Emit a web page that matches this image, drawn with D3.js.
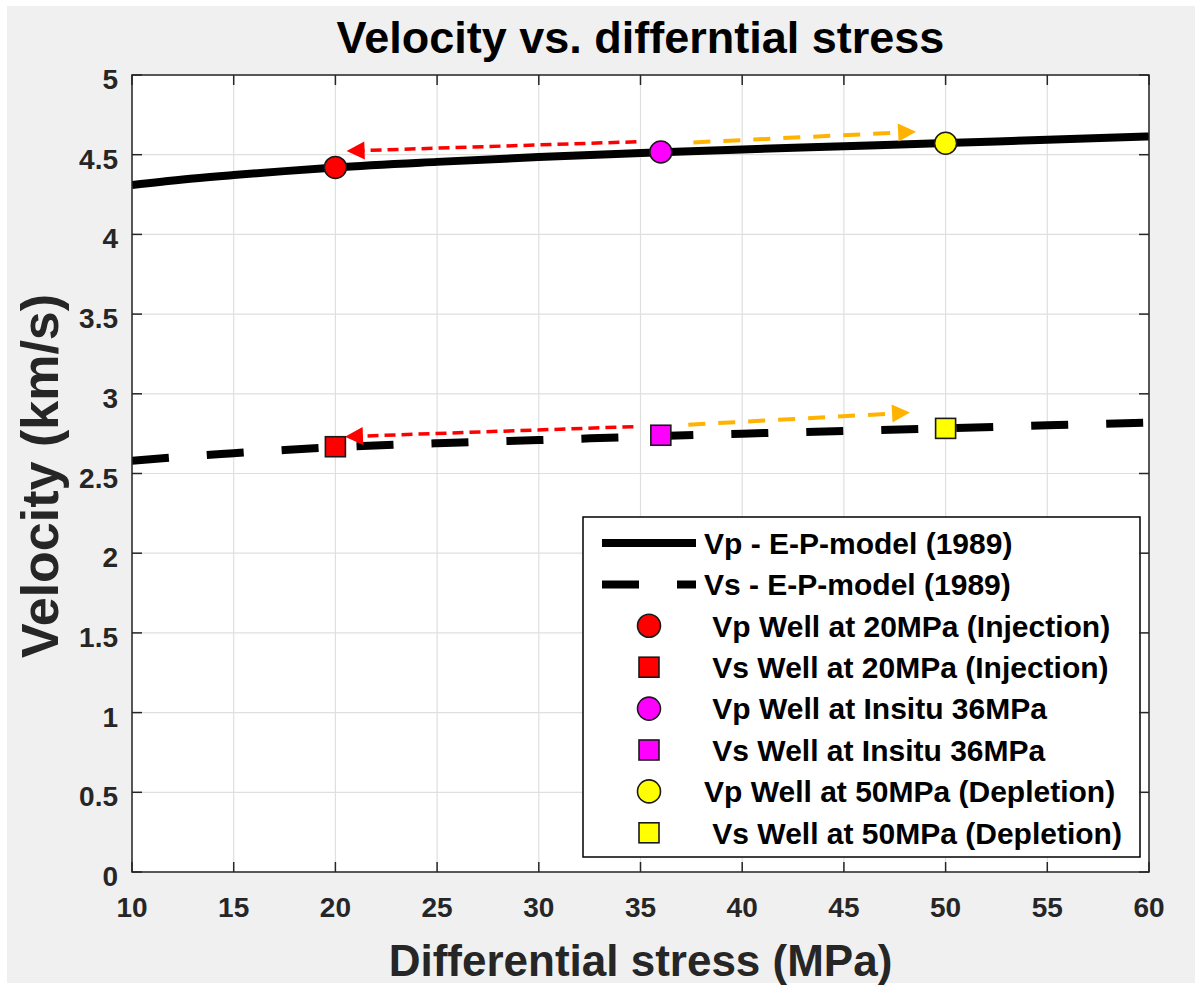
<!DOCTYPE html>
<html>
<head>
<meta charset="utf-8">
<script src="https://cdn.jsdelivr.net/npm/d3@7"></script>
<style>
  html, body { margin: 0; padding: 0; background: #ffffff; }
  svg { display: block; }
  text { font-family: "Liberation Sans", Arial, sans-serif; }
</style>
</head>
<body>
<svg id="chart" width="1200" height="987"></svg>
<script>
// ---------------- data ----------------
const stress = [10, 12.5, 15, 17.5, 20, 25, 30, 36, 40, 45, 50, 55, 60];
const vpModel = [4.31, 4.345, 4.372, 4.397, 4.42, 4.455, 4.485, 4.515, 4.533, 4.553, 4.573, 4.594, 4.614];
const vsModel = [2.58, 2.606, 2.627, 2.647, 2.665, 2.69, 2.71, 2.735, 2.75, 2.767, 2.784, 2.802, 2.82];

const wellStress = [20, 36, 50];
const wellVp = [4.42, 4.517, 4.572];
const wellVs = [2.668, 2.74, 2.783];
const wellColors = ["#ff0000", "#ff00ff", "#ffff00"];

// arrows: [x1, y1, x2(tip), y2(tip)]
const arrowVpInjection = [34.8, 4.581, 20.55, 4.523];
const arrowVpDepletion = [37.6, 4.577, 48.55, 4.644];
const arrowVsInjection = [34.65, 2.794, 20.47, 2.731];
const arrowVsDepletion = [37.35, 2.806, 48.25, 2.882];

const xTicks = [10, 15, 20, 25, 30, 35, 40, 45, 50, 55, 60];
const yTicks = [0, 0.5, 1, 1.5, 2, 2.5, 3, 3.5, 4, 4.5, 5];

const legendLabels = [
  "Vp - E-P-model (1989)",
  "Vs - E-P-model (1989)",
  " Vp Well at 20MPa (Injection)",
  " Vs Well at 20MPa (Injection)",
  " Vp Well at Insitu 36MPa",
  " Vs Well at Insitu 36MPa",
  "Vp Well at 50MPa (Depletion)",
  " Vs Well at 50MPa (Depletion)"
];

const titleText = "Velocity vs. differntial stress";
const xLabelText = "Differential stress (MPa)";
const yLabelText = "Velocity (km/s)";

// ---------------- layout ----------------
const svg = d3.select("#chart");
const L = 132, T = 75, R = 1149, B = 872;
const x = d3.scaleLinear().domain([10, 60]).range([L, R]);
const y = d3.scaleLinear().domain([0, 5]).range([B, T]);
const axisColor = "#262626";

// figure background
svg.append("rect").attr("x", 7).attr("y", 6).attr("width", 1188).attr("height", 977).attr("fill", "#f0f0f0");
// plot background
svg.append("rect").attr("x", L).attr("y", T).attr("width", R - L).attr("height", B - T).attr("fill", "#ffffff");

// grid
const grid = svg.append("g").attr("stroke", "#dfdfdf").attr("stroke-width", 1.2);
xTicks.forEach(t => grid.append("line").attr("x1", x(t)).attr("x2", x(t)).attr("y1", T).attr("y2", B));
yTicks.forEach(t => grid.append("line").attr("y1", y(t)).attr("y2", y(t)).attr("x1", L).attr("x2", R));

// clip
svg.append("clipPath").attr("id", "clip").append("rect")
  .attr("x", L).attr("y", T).attr("width", R - L).attr("height", B - T);
const plot = svg.append("g").attr("clip-path", "url(#clip)");

const line = d3.line().x(d => x(d[0])).y(d => y(d[1])).curve(d3.curveMonotoneX);

plot.append("path")
  .attr("d", line(stress.map((s, i) => [s, vpModel[i]])))
  .attr("fill", "none").attr("stroke", "#000").attr("stroke-width", 8);

plot.append("path")
  .attr("d", line(stress.map((s, i) => [s, vsModel[i]])))
  .attr("fill", "none").attr("stroke", "#000").attr("stroke-width", 8)
  .attr("stroke-dasharray", "37,38");

// arrows
function drawArrow(a, color, dash, width) {
  const x1 = x(a[0]), y1 = y(a[1]), x2 = x(a[2]), y2 = y(a[3]);
  const dx = x2 - x1, dy = y2 - y1, len = Math.hypot(dx, dy);
  const ux = dx / len, uy = dy / len;
  const headL = 18, headW = 9;
  const bx = x2 - ux * headL, by = y2 - uy * headL;
  plot.append("line").attr("x1", x1).attr("y1", y1).attr("x2", bx + ux * 2).attr("y2", by + uy * 2)
    .attr("stroke", color).attr("stroke-width", width).attr("stroke-dasharray", dash);
  plot.append("path")
    .attr("d", `M${x2},${y2}L${bx - uy * headW},${by + ux * headW}L${bx + uy * headW},${by - ux * headW}Z`)
    .attr("fill", color);
}
drawArrow(arrowVpInjection, "#ff0000", "11,6", 3.5);
drawArrow(arrowVsInjection, "#ff0000", "11,6", 3.5);
drawArrow(arrowVpDepletion, "#ffb300", "17,13", 4);
drawArrow(arrowVsDepletion, "#ffb300", "17,13", 4);

// well markers
wellStress.forEach((s, i) => {
  plot.append("circle").attr("cx", x(s)).attr("cy", y(wellVp[i])).attr("r", 11)
    .attr("fill", wellColors[i]).attr("stroke", "#1a1a1a").attr("stroke-width", 1.6);
  const side = 20;
  plot.append("rect").attr("x", x(s) - side / 2).attr("y", y(wellVs[i]) - side / 2)
    .attr("width", side).attr("height", side)
    .attr("fill", wellColors[i]).attr("stroke", "#1a1a1a").attr("stroke-width", 1.6);
});

// legend
const lg = svg.append("g");
const lgL = 583, lgT = 517, lgR = 1140, lgB = 857;
lg.append("rect").attr("x", lgL).attr("y", lgT).attr("width", lgR - lgL).attr("height", lgB - lgT)
  .attr("fill", "#fff").attr("stroke", "#000").attr("stroke-width", 1.5);
const rowY0 = 543, rowStep = 41.4;
legendLabels.forEach((lab, i) => {
  const ry = rowY0 + i * rowStep;
  if (i === 0 || i === 1) {
    const ln = lg.append("line").attr("x1", 602).attr("x2", 696).attr("y1", ry).attr("y2", ry)
      .attr("stroke", "#000").attr("stroke-width", 8);
    if (i === 1) ln.attr("stroke-dasharray", "37,38");
  } else {
    const k = Math.floor((i - 2) / 2);
    if (i % 2 === 0) {
      lg.append("circle").attr("cx", 649).attr("cy", ry).attr("r", 11.5)
        .attr("fill", wellColors[k]).attr("stroke", "#1a1a1a").attr("stroke-width", 1.6);
    } else {
      lg.append("rect").attr("x", 649 - 10).attr("y", ry - 10).attr("width", 20).attr("height", 20)
        .attr("fill", wellColors[k]).attr("stroke", "#1a1a1a").attr("stroke-width", 1.6);
    }
  }
  lg.append("text").attr("x", 704).attr("y", ry).attr("dy", "0.36em")
    .attr("font-size", 30).attr("font-weight", "bold").attr("fill", "#000")
    .style("white-space", "pre").text(lab);
});

// axes box and ticks
const ax = svg.append("g").attr("stroke", axisColor).attr("stroke-width", 1.5);
ax.append("rect").attr("x", L).attr("y", T).attr("width", R - L).attr("height", B - T).attr("fill", "none");
const tickLen = 10;
xTicks.forEach(t => {
  ax.append("line").attr("x1", x(t)).attr("x2", x(t)).attr("y1", B).attr("y2", B - tickLen);
  ax.append("line").attr("x1", x(t)).attr("x2", x(t)).attr("y1", T).attr("y2", T + tickLen);
});
yTicks.forEach(t => {
  ax.append("line").attr("y1", y(t)).attr("y2", y(t)).attr("x1", L).attr("x2", L + tickLen);
  ax.append("line").attr("y1", y(t)).attr("y2", y(t)).attr("x1", R).attr("x2", R - tickLen);
});

// tick labels
const tl = svg.append("g").attr("font-size", 28).attr("font-weight", "bold").attr("fill", axisColor);
xTicks.forEach(t => tl.append("text").attr("x", x(t)).attr("y", B + 35).attr("dy", "0.36em")
  .attr("text-anchor", "middle").text(d3.format("")(t)));
yTicks.forEach(t => tl.append("text").attr("x", 118).attr("y", y(t) + 4).attr("dy", "0.36em")
  .attr("text-anchor", "end").text(d3.format("")(t)));

// title and labels
svg.append("text").attr("x", (L + R) / 2).attr("y", 53).attr("text-anchor", "middle")
  .attr("font-size", 45).attr("font-weight", "bold").attr("fill", "#000").text(titleText);
svg.append("text").attr("x", (L + R) / 2).attr("y", 976).attr("text-anchor", "middle")
  .attr("font-size", 44).attr("font-weight", "bold").attr("fill", axisColor).text(xLabelText);
svg.append("text").attr("transform", `translate(58,476) rotate(-90)`).attr("text-anchor", "middle")
  .attr("font-size", 52).attr("font-weight", "bold").attr("fill", axisColor).text(yLabelText);
</script>
</body>
</html>
